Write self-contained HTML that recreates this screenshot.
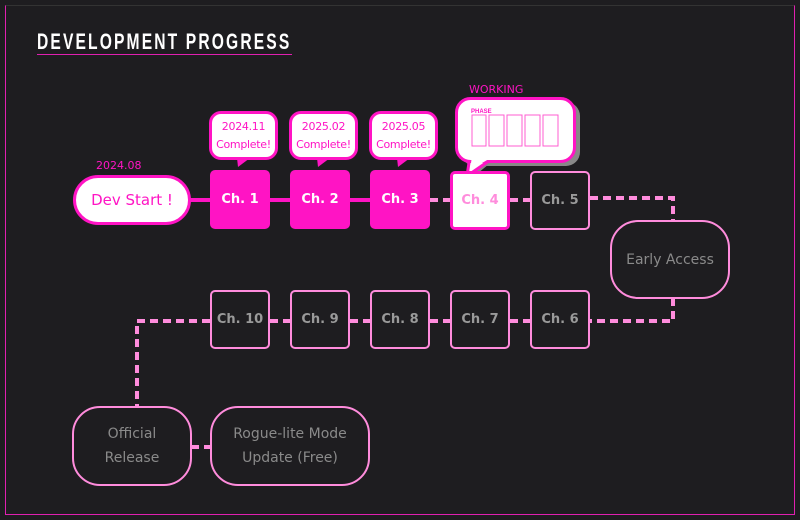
<!DOCTYPE html>
<html><head><style>
body{margin:0;width:800px;height:520px;background:#1e1d20;overflow:hidden;font-family:"DejaVu Sans","Liberation Sans",sans-serif}
.a{position:absolute;box-sizing:border-box}
.frame{left:5px;top:5px;width:790px;height:510px;border:1px solid #e020b0;border-top-color:#333}
.title{left:37px;top:29px;font:bold 22px "Liberation Sans",sans-serif;color:#fff;letter-spacing:3px;transform:scaleX(0.71);transform-origin:left}
.ul{left:37px;top:54px;width:255px;height:1px;background:#e020b0}
.box{width:60px;height:59px;border-radius:5px;display:flex;align-items:center;justify-content:center;font-weight:bold;font-size:13px}
.done{background:#ff14c4;color:#fff}
.todo{border:2px solid #ff8cdc;color:#9a9a9a}
.bub{width:69px;height:49px;background:#fff;border:3px solid #ff14c4;border-radius:12px;color:#ff14c4;font-size:11px;text-align:center;line-height:18px;padding-top:4px;letter-spacing:-0.3px}
.rnd{border:2px solid #ff8cdc;border-radius:28px;color:#8a8a8a;font-size:14px;display:flex;align-items:center;justify-content:center;text-align:center;line-height:24px}
</style></head><body>
<div class="a frame"></div>
<div class="a title">DEVELOPMENT PROGRESS</div>
<div class="a ul"></div>
<svg class="a" style="left:0;top:0" width="800" height="520">
<line x1="190" y1="200" x2="370" y2="200" stroke="#ff14c4" stroke-width="4"/>
<g stroke="#ff8cdc" stroke-width="4" fill="none" stroke-dasharray="8,5">
<line x1="430" y1="200" x2="450" y2="200"/>
<line x1="510" y1="200" x2="530" y2="200"/>
<polyline points="590,198 673,198 673,222"/>
<polyline points="673,298 673,321 590,321"/>
<line x1="510" y1="321" x2="530" y2="321"/>
<line x1="430" y1="321" x2="450" y2="321"/>
<line x1="350" y1="321" x2="370" y2="321"/>
<line x1="270" y1="321" x2="290" y2="321"/>
<polyline points="210,321 137,321 137,407"/>
<line x1="191" y1="447" x2="211" y2="447"/>
</g>
<polygon points="237,158 250,158 238,167" fill="#ff14c4"/>
<polygon points="317,158 330,158 318,167" fill="#ff14c4"/>
<polygon points="397,158 410,158 398,167" fill="#ff14c4"/>
<rect x="461" y="102" width="119" height="64" rx="14" fill="#888"/>
<polygon points="478,155 500,155 472,178" fill="#888"/>
<polygon points="470,156 496,156 467,176" fill="#fff" stroke="#ff14c4" stroke-width="3"/>
<rect x="456.5" y="98.5" width="118" height="63" rx="14" fill="#fff" stroke="#ff14c4" stroke-width="3"/>
<polygon points="472,156 494,156 470,170" fill="#fff"/>
<text x="471" y="113" font-size="6" fill="#ff14c4" font-weight="bold" font-family="Liberation Sans">PHASE</text>
<g fill="none" stroke="#ff5cd0" stroke-width="1">
<rect x="472" y="115" width="14" height="31"/><rect x="489" y="115" width="15" height="31"/><rect x="507" y="115" width="15" height="31"/><rect x="525" y="115" width="15" height="31"/><rect x="543" y="115" width="15" height="31"/>
</g>
<text x="469" y="93" font-size="11" fill="#ff14c4" font-family="DejaVu Sans">WORKING</text>
<text x="96" y="169" font-size="11" fill="#ff14c4" font-family="DejaVu Sans">2024.08</text>
</svg>
<div class="a" style="left:73px;top:175px;width:118px;height:50px;background:#fff;border:3px solid #ff14c4;border-radius:25px;color:#ff14c4;font-size:15px;display:flex;align-items:center;justify-content:center">Dev Start !</div>
<div class="a bub" style="left:209px;top:111px">2024.11<br>Complete!</div>
<div class="a bub" style="left:289px;top:111px">2025.02<br>Complete!</div>
<div class="a bub" style="left:369px;top:111px">2025.05<br>Complete!</div>
<div class="a box done" style="left:210px;top:170px">Ch. 1</div>
<div class="a box done" style="left:290px;top:170px">Ch. 2</div>
<div class="a box done" style="left:370px;top:170px">Ch. 3</div>
<div class="a box" style="left:450px;top:171px;background:#fff;border:3px solid #ff14c4;color:#ff8cdc">Ch. 4</div>
<div class="a box todo" style="left:530px;top:171px">Ch. 5</div>
<div class="a rnd" style="left:610px;top:220px;width:120px;height:79px">Early Access</div>
<div class="a box todo" style="left:210px;top:290px">Ch. 10</div>
<div class="a box todo" style="left:290px;top:290px">Ch. 9</div>
<div class="a box todo" style="left:370px;top:290px">Ch. 8</div>
<div class="a box todo" style="left:450px;top:290px">Ch. 7</div>
<div class="a box todo" style="left:530px;top:290px">Ch. 6</div>
<div class="a rnd" style="left:72px;top:406px;width:120px;height:80px">Official<br>Release</div>
<div class="a rnd" style="left:210px;top:406px;width:160px;height:80px">Rogue-lite Mode<br>Update (Free)</div>
</body></html>
